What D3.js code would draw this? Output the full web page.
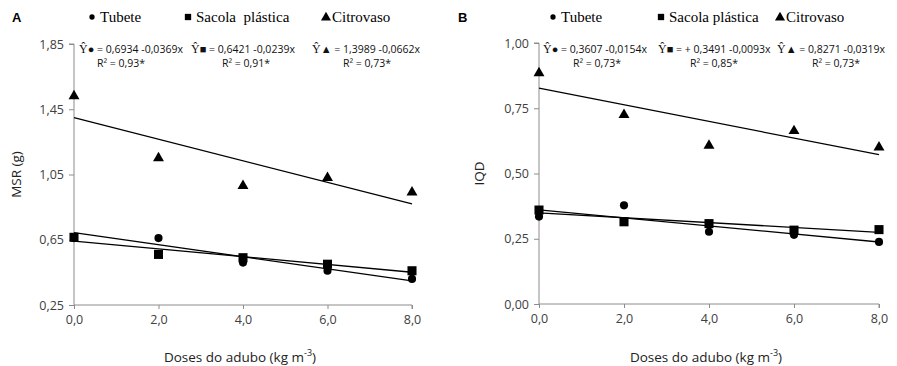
<!DOCTYPE html>
<html>
<head>
<meta charset="utf-8">
<script src="https://cdn.jsdelivr.net/npm/d3@7"></script>
<style>
  body { margin:0; background:#fff; }
  .tick text { font-family:"Open Sans", sans-serif; font-size:12.5px; fill:#404040; }
  .axis path, .axis line { stroke:#8c8c8c; }
</style>
</head>
<body>
<div id="chart"></div>
<script>
// doses (kg m-3)
const doses = [0, 2, 4, 6, 8];
const seriesNames = ["Tubete", "Sacola  plástica", "Citrovaso"];

// panel A - MSR (g)
const msrTubete   = [0.66, 0.66, 0.51, 0.46, 0.41];
const msrSacola   = [0.665, 0.56, 0.54, 0.50, 0.46];
const msrCitro    = [1.53, 1.15, 0.98, 1.03, 0.94];
const msrCoef     = [[0.6934, -0.0369], [0.6421, -0.0239], [1.3989, -0.0662]];
const msrEq       = ["= 0,6934 -0,0369x", "= 0,6421 -0,0239x", "= 1,3989 -0,0662x"];
const msrR2       = ["R² = 0,93*", "R² = 0,91*", "R² = 0,73*"];
const msrTicks    = [0.25, 0.65, 1.05, 1.45, 1.85];

// panel B - IQD
const iqdTubete   = [0.335, 0.378, 0.277, 0.265, 0.238];
const iqdSacola   = [0.36, 0.315, 0.308, 0.283, 0.285];
const iqdCitro    = [0.885, 0.725, 0.607, 0.663, 0.60];
const iqdCoef     = [[0.3607, -0.0154], [0.3491, -0.0093], [0.8271, -0.0319]];
const iqdEq       = ["= 0,3607 -0,0154x", "= + 0,3491 -0,0093x", "= 0,8271 -0,0319x"];
const iqdR2       = ["R² = 0,73*", "R² = 0,85*", "R² = 0,73*"];
const iqdTicks    = [0, 0.25, 0.5, 0.75, 1.0];

const xTicks = [0, 2, 4, 6, 8];
const fmt1 = d3.format(".1f"), fmt2 = d3.format(".2f");
const comma = s => s.replace(".", ",");

const svg = d3.select("#chart").append("svg")
  .attr("width", 897).attr("height", 366);

const symbols = [d3.symbolCircle, d3.symbolSquare, d3.symbolTriangle];
const symSize = [52, 82, 52];
const legSize = [22, 40, 44];
const glyphs = ["●", "■", "▲"];

function panel(opt) {
  const g = svg.append("g");
  const x = d3.scaleLinear().domain([0, 8]).range([opt.x0, opt.x1]);
  const y = d3.scaleLinear().domain(opt.yDomain).range([opt.yBottom, opt.yTop]);

  g.append("g").attr("class", "axis")
    .attr("transform", `translate(0,${opt.yBottom})`)
    .call(d3.axisBottom(x).tickValues(xTicks).tickSize(4).tickPadding(6).tickFormat(d => comma(fmt1(d))))
    .call(a => a.select(".domain").attr("d", `M${opt.x0},0H${opt.x1}V4`));

  g.append("g").attr("class", "axis")
    .attr("transform", `translate(${opt.x0},0)`)
    .call(d3.axisLeft(y).tickValues(opt.yTicks).tickSize(5).tickPadding(5).tickFormat(d => comma(fmt2(d))))
    .call(a => a.select(".domain").attr("d", `M-5,${opt.yTop}H0V${opt.yBottom}`));

  // regression lines
  opt.coef.forEach(c => {
    g.append("line")
      .attr("x1", x(0)).attr("y1", y(c[0]))
      .attr("x2", x(8)).attr("y2", y(c[0] + c[1] * 8))
      .attr("stroke", "#000").attr("stroke-width", 1.3);
  });

  // points
  opt.series.forEach((vals, i) => {
    g.selectAll(null).data(vals).enter().append("path")
      .attr("d", d3.symbol().type(symbols[i]).size(symSize[i]))
      .attr("transform", (d, j) => `translate(${x(doses[j])},${y(d)})`)
      .attr("fill", "#000");
  });

  // panel letter
  g.append("text").attr("x", opt.letterX).attr("y", 22)
    .attr("font-family", "Liberation Sans, Arial, sans-serif").attr("font-weight", "bold")
    .attr("font-size", 13).text(opt.letter);

  // legend
  opt.names.forEach((n, i) => {
    g.append("path")
      .attr("d", d3.symbol().type(symbols[i]).size(legSize[i]))
      .attr("transform", `translate(${opt.legX[i]},${i === 2 ? 17.5 : 17})`);
    g.append("text").attr("x", opt.legX[i] + (i === 2 ? 6 : 8)).attr("y", 22)
      .attr("font-family", "Liberation Serif, Times New Roman, serif").attr("font-size", 15)
      .style("white-space", "pre")
      .text(n);
  });

  // equations
  opt.eq.forEach((e, i) => {
    const t = g.append("text").attr("x", opt.eqX[i]).attr("y", 53)
      .attr("font-family", "Open Sans, sans-serif").attr("font-size", 10.5).attr("fill", "#111");
    t.append("tspan").attr("font-family", "Liberation Serif, serif").attr("font-size", 12).text("Ŷ");
    t.append("tspan").attr("font-family", "Liberation Serif, serif").attr("font-size", 11).text(glyphs[i] + " ");
    t.append("tspan").text(e);
    g.append("text").attr("x", opt.r2X[i]).attr("y", 67)
      .attr("font-family", "Open Sans, sans-serif").attr("font-size", 10.5).attr("fill", "#111")
      .text(opt.r2[i]);
  });

  // axis titles
  g.append("text")
    .attr("transform", `translate(${opt.yTitleX},${(opt.yTop + opt.yBottom) / 2}) rotate(-90)`)
    .attr("text-anchor", "middle").attr("font-family", "Open Sans, sans-serif")
    .attr("font-size", 13.5).attr("fill", "#222").text(opt.yTitle);

  const xt = g.append("text").attr("x", (opt.x0 + opt.x1) / 2 - 3).attr("y", 362)
    .attr("text-anchor", "middle").attr("font-family", "Open Sans, sans-serif")
    .attr("font-size", 13.5).attr("fill", "#222");
  xt.append("tspan").text("Doses do adubo (kg m");
  xt.append("tspan").attr("font-size", 9).attr("dy", -6).text("-3");
  xt.append("tspan").attr("dy", 6).text(")");
}

panel({
  letter: "A", letterX: 12,
  x0: 74, x1: 412, yTop: 44, yBottom: 305,
  yDomain: [0.25, 1.85], yTicks: msrTicks,
  series: [msrTubete, msrSacola, msrCitro], coef: msrCoef,
  eq: msrEq, r2: msrR2, names: seriesNames,
  legX: [92, 188, 326], eqX: [79, 191, 312], r2X: [97, 222, 343],
  yTitle: "MSR (g)", yTitleX: 21
});

panel({
  letter: "B", letterX: 458,
  x0: 539, x1: 879, yTop: 43, yBottom: 304,
  yDomain: [0, 1], yTicks: iqdTicks,
  series: [iqdTubete, iqdSacola, iqdCitro], coef: iqdCoef,
  eq: iqdEq, r2: iqdR2, names: ["Tubete", "Sacola plástica", "Citrovaso"],
  legX: [553, 661, 780], eqX: [543, 658, 777], r2X: [573, 690, 812],
  yTitle: "IQD", yTitleX: 484
});
</script>
</body>
</html>
